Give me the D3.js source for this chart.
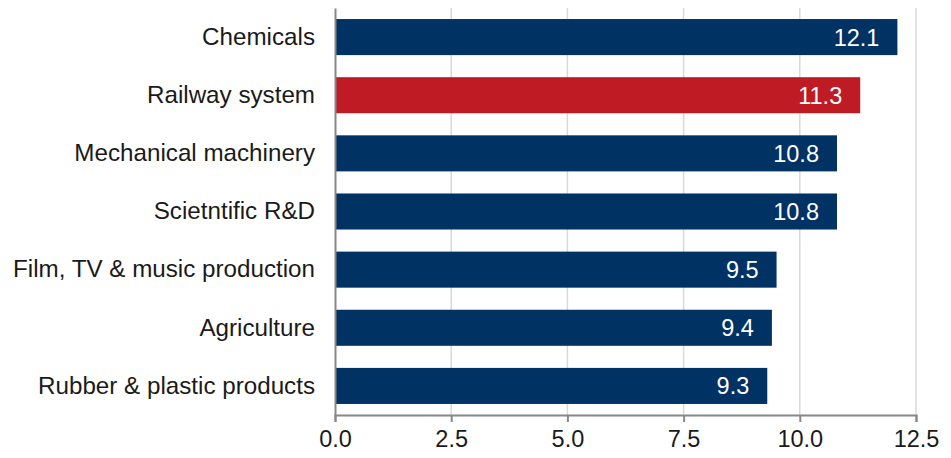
<!DOCTYPE html>
<html>
<head>
<meta charset="utf-8">
<script src="https://cdn.jsdelivr.net/npm/d3@7/dist/d3.min.js"></script>
<style>
  html, body { margin: 0; padding: 0; background: #fff; }
  svg { display: block; }
  text { font-family: "Liberation Sans", Arial, sans-serif; }
</style>
</head>
<body>
<svg id="chart" width="951" height="458"></svg>
<script>
// Sectors and their values
const categories = [
  "Chemicals",
  "Railway system",
  "Mechanical machinery",
  "Scietntific R&D",
  "Film, TV & music production",
  "Agriculture",
  "Rubber & plastic products"
];
const values = [12.1, 11.3, 10.8, 10.8, 9.5, 9.4, 9.3];
const highlighted = ["Railway system"];
const xTicks = [0, 2.5, 5, 7.5, 10, 12.5];

const svg = d3.select("#chart");
const plotLeft = 335, plotRight = 916, plotTop = 8, plotBottom = 415;
const fontSize = "23.5px";

const x = d3.scaleLinear().domain([0, 12.5]).range([plotLeft, plotRight]);
const y = d3.scaleBand().domain(categories).range([plotTop, plotBottom])
  .paddingInner(0.38).paddingOuter(0.19);

// vertical gridlines
svg.append("g").selectAll("line").data(xTicks.slice(1)).join("line")
  .attr("x1", d => x(d)).attr("x2", d => x(d))
  .attr("y1", plotTop).attr("y2", plotBottom)
  .attr("stroke", "#d9d9d9").attr("stroke-width", 1.5);

// bars
const data = categories.map((c, i) => ({ c, v: values[i] }));
svg.append("g").selectAll("rect").data(data).join("rect")
  .attr("x", x(0))
  .attr("y", d => y(d.c))
  .attr("width", d => x(d.v) - x(0))
  .attr("height", y.bandwidth())
  .attr("fill", d => highlighted.includes(d.c) ? "#be1b24" : "#003263");

// value labels inside the bar ends
svg.append("g").selectAll("text").data(data).join("text")
  .attr("x", d => x(d.v) - 18)
  .attr("y", d => y(d.c) + y.bandwidth() / 2)
  .attr("dy", "0.36em")
  .attr("text-anchor", "end")
  .attr("fill", "#fff")
  .style("font-size", fontSize)
  .text(d => d.v.toFixed(1));

// x axis
const xAxis = d3.axisBottom(x).tickValues(xTicks)
  .tickFormat(d3.format(".1f")).tickSize(7).tickPadding(8);
const gx = svg.append("g").attr("transform", `translate(0,${plotBottom})`).call(xAxis);
gx.select(".domain").attr("stroke", "#888").attr("stroke-width", 2);
gx.selectAll(".tick line").attr("stroke", "#888").attr("stroke-width", 2);
gx.selectAll(".tick text").attr("fill", "#1a1a1a").style("font-size", fontSize)
  .style("font-family", "'Liberation Sans', Arial, sans-serif");

// y axis
const yAxis = d3.axisLeft(y).tickSize(0).tickPadding(20);
const gy = svg.append("g").attr("transform", `translate(${plotLeft},0)`).call(yAxis);
gy.select(".domain").attr("stroke", "#888").attr("stroke-width", 2);
gy.selectAll(".tick text").attr("fill", "#1a1a1a").style("font-size", "24.2px")
  .style("font-family", "'Liberation Sans', Arial, sans-serif");
</script>
</body>
</html>
